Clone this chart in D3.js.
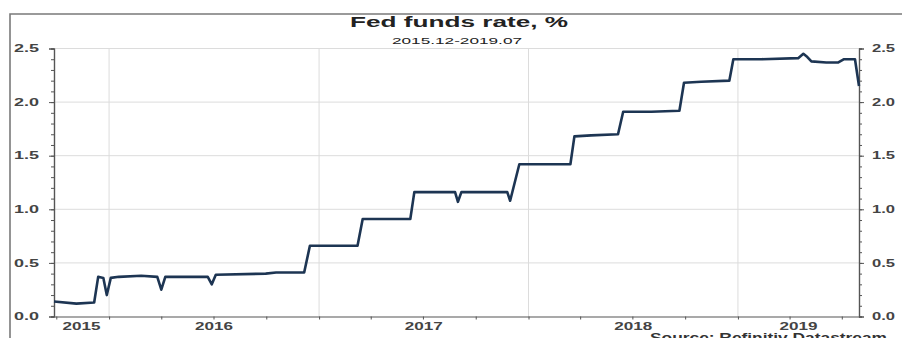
<!DOCTYPE html>
<html>
<head>
<meta charset="utf-8">
<script src="https://cdn.jsdelivr.net/npm/d3@7"></script>
<style>
  body { margin: 0; background: #fff; }
  svg { display: block; font-family: "Liberation Sans", Arial, sans-serif; }
</style>
</head>
<body>
<svg id="chart" width="902" height="338"></svg>
<script>
// effective fed funds rate
const dates = [
  "2015-09-27", "2015-11-05", "2015-12-06", "2015-12-13", "2015-12-22", "2015-12-28",
  "2016-01-04", "2016-01-18", "2016-02-26", "2016-03-25", "2016-04-01", "2016-04-08",
  "2016-06-21", "2016-06-28", "2016-07-05", "2016-09-30", "2016-10-18", "2016-12-06",
  "2016-12-16", "2017-03-09", "2017-03-18", "2017-06-09", "2017-06-16", "2017-08-26",
  "2017-08-31", "2017-09-06", "2017-11-25", "2017-11-30", "2017-12-16", "2018-03-15",
  "2018-03-22", "2018-04-20", "2018-06-06", "2018-06-15", "2018-08-03", "2018-09-21",
  "2018-09-29", "2018-10-29", "2018-12-17", "2018-12-24", "2019-02-11", "2019-04-16",
  "2019-04-25", "2019-05-02", "2019-05-09", "2019-06-04", "2019-06-25", "2019-07-05",
  "2019-07-24", "2019-07-31"
];
const rates = [
  0.14, 0.12, 0.13, 0.37, 0.36, 0.20,
  0.36, 0.37, 0.38, 0.37, 0.25, 0.37,
  0.37, 0.30, 0.39, 0.40, 0.41, 0.41,
  0.66, 0.66, 0.91, 0.91, 1.16, 1.16,
  1.07, 1.16, 1.16, 1.08, 1.42, 1.42,
  1.68, 1.69, 1.70, 1.91, 1.91, 1.92,
  2.18, 2.19, 2.20, 2.40, 2.40, 2.41,
  2.45, 2.42, 2.38, 2.37, 2.37, 2.40,
  2.40, 2.15
];
const yTicks = [0, 0.5, 1.0, 1.5, 2.0, 2.5];
const yearLabels = ["2015", "2016", "2017", "2018", "2019"];
const title = "Fed funds rate, %";
const subtitle = "2015.12-2019.07";
const source = "Source: Refinitiv Datastream";

const parse = d3.timeParse("%Y-%m-%d");
const data = dates.map((d, i) => ({ date: parse(d), value: rates[i] }));

const svg = d3.select("#chart");
const plot = { left: 54, right: 859, top: 48.5, bottom: 316.5 };

const x = d3.scaleTime()
  .domain([parse("2015-09-27"), parse("2019-07-31")])
  .range([plot.left, plot.right]);
const y = d3.scaleLinear().domain([0, 2.5]).range([plot.bottom, plot.top]);

// the original picture is stretched sideways, so stretch the text too
const stretch = (sel, w) => sel.attr("textLength", w).attr("lengthAdjust", "spacingAndGlyphs");

// outer frame
svg.append("path")
  .attr("d", "M10,338 V14 H902")
  .attr("fill", "none")
  .attr("stroke", "#7a7a7a")
  .attr("stroke-width", 1.6);

// grid
const years = d3.timeYear.range(parse("2016-01-01"), parse("2019-07-31"));
svg.append("g").selectAll("line")
  .data(years).enter().append("line")
  .attr("x1", d => x(d)).attr("x2", d => x(d))
  .attr("y1", plot.top).attr("y2", plot.bottom)
  .attr("stroke", "#dcdcdc");
svg.append("g").selectAll("line")
  .data(yTicks.slice(1)).enter().append("line")
  .attr("x1", plot.left).attr("x2", plot.right)
  .attr("y1", d => y(d)).attr("y2", d => y(d))
  .attr("stroke", "#dcdcdc");

// axes
const axisColor = "#555";
const styleAxis = g => {
  g.select(".domain").attr("stroke", axisColor).attr("stroke-width", 1.2);
  g.selectAll(".tick line").attr("stroke", axisColor);
  g.selectAll(".tick text").attr("fill", "#444")
    .attr("font-size", 10).attr("font-weight", "bold");
};

const minorY = d3.range(0, 2.51, 0.1);
svg.append("g")
  .attr("transform", `translate(${plot.left},0)`)
  .call(d3.axisLeft(y).tickValues(minorY).tickSize(3).tickFormat(""))
  .call(styleAxis);
svg.append("g")
  .attr("transform", `translate(${plot.left},0)`)
  .call(d3.axisLeft(y).tickValues(yTicks).tickSize(5).tickPadding(10).tickFormat(d3.format(".1f")))
  .call(styleAxis)
  .call(g => stretch(g.selectAll(".tick text"), 25));
svg.append("g")
  .attr("transform", `translate(${plot.right},0)`)
  .call(d3.axisRight(y).tickValues(minorY).tickSize(3).tickFormat(""))
  .call(styleAxis);
svg.append("g")
  .attr("transform", `translate(${plot.right},0)`)
  .call(d3.axisRight(y).tickValues(yTicks).tickSize(5).tickPadding(8).tickFormat(d3.format(".1f")))
  .call(styleAxis)
  .call(g => stretch(g.selectAll(".tick text"), 23));

const quarters = d3.timeMonth.every(3).range(parse("2015-10-01"), parse("2019-07-31"));
svg.append("g")
  .attr("transform", `translate(0,${plot.bottom})`)
  .call(d3.axisBottom(x).tickValues(quarters).tickSize(3).tickFormat("").tickSizeOuter(0))
  .call(styleAxis);

// year labels centred on the visible part of each year
const [d0, d1] = x.domain();
svg.append("g").selectAll("text")
  .data(yearLabels).enter().append("text")
  .attr("x", d => {
    const a = d3.max([new Date(+d, 0, 1), d0]);
    const b = d3.min([new Date(+d + 1, 0, 1), d1]);
    return (x(a) + x(b)) / 2 - 19;
  })
  .attr("y", plot.bottom + 13)
  .attr("font-size", 10)
  .attr("font-weight", "bold")
  .attr("fill", "#444")
  .text(d => d)
  .call(s => stretch(s, 38));

// series
const line = d3.line().x(d => x(d.date)).y(d => y(d.value));
svg.append("path")
  .datum(data)
  .attr("d", line)
  .attr("fill", "none")
  .attr("stroke", "#1d3553")
  .attr("stroke-width", 2.6)
  .attr("stroke-linejoin", "round");

// titles
svg.append("text")
  .attr("x", 350).attr("y", 27)
  .attr("font-size", 14).attr("font-weight", "bold")
  .attr("fill", "#222")
  .text(title)
  .call(s => stretch(s, 218));
svg.append("text")
  .attr("x", 392).attr("y", 44)
  .attr("font-size", 9.5)
  .attr("fill", "#222")
  .text(subtitle)
  .call(s => stretch(s, 130));
svg.append("text")
  .attr("x", 650).attr("y", 342)
  .attr("font-size", 12).attr("font-weight", "bold")
  .attr("fill", "#333")
  .text(source)
  .call(s => stretch(s, 237));
</script>
</body>
</html>
